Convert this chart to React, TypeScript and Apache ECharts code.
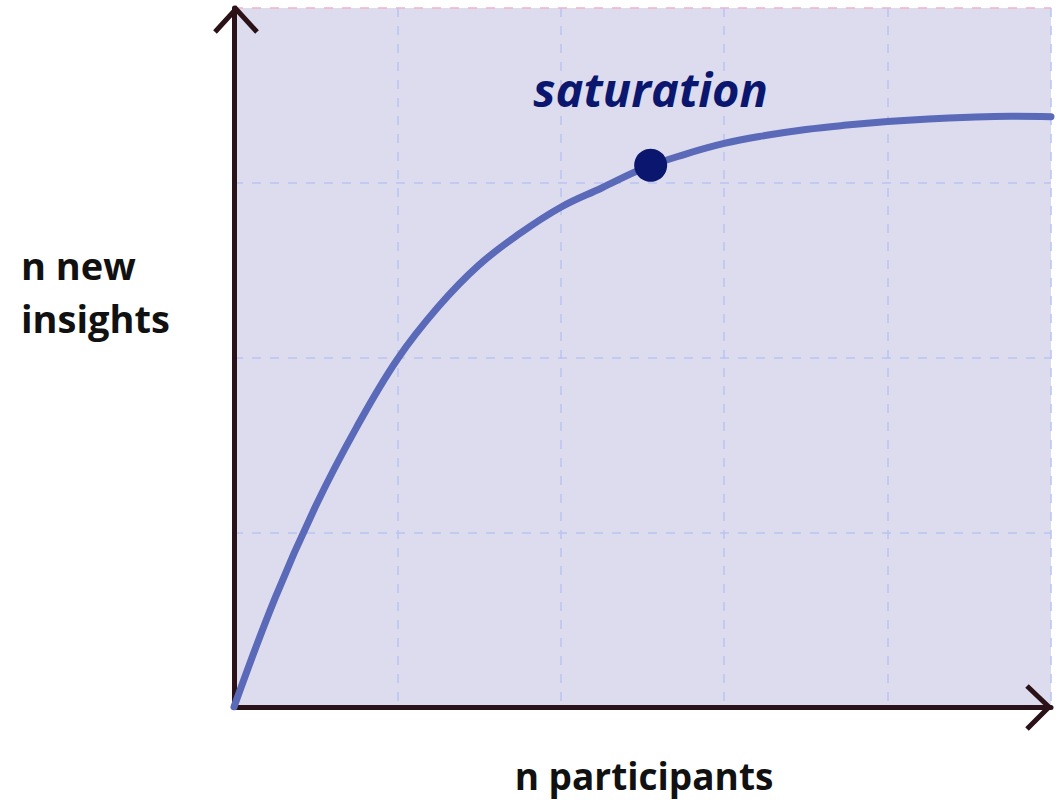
import React, { useEffect, useRef } from "react";
import * as echarts from "echarts";

const curveX = [0, 0.25, 0.5, 0.75, 1.0, 1.25, 1.5, 1.75, 2.0, 2.25, 2.5, 2.75, 3.0, 3.25, 3.5, 3.75, 4.0, 4.25, 4.5, 4.75, 5.0];
const curveY = [0, 0.62, 1.15, 1.6, 1.99, 2.29, 2.53, 2.71, 2.86, 2.97, 3.08, 3.16, 3.225, 3.27, 3.305, 3.33, 3.35, 3.365, 3.375, 3.38, 3.378];
const saturationPoint = [2.55, 3.1];
const pointLabel = "saturation";
const xTitle = "n participants";
const yTitleLines = ["n new", "insights"];
const xRange = [0, 5];
const yRange = [0, 4];

export default function App() {
  const ref = useRef<HTMLDivElement>(null);
  useEffect(() => {
    if (!ref.current) return;
    const chart = echarts.init(ref.current, undefined, { renderer: "svg" });
    const axisColor = "#2a1218";
    const gridColor = "#b9c3f4";
    const dash = [9, 9];
    const titleStyle = {
      fontSize: 38,
      fontWeight: "bold",
      fontFamily: "Open Sans",
      fill: "#111",
    };
    chart.setOption({
      animation: false,
      grid: {
        left: 234,
        right: 12,
        top: 8,
        bottom: 93,
        show: true,
        backgroundColor: "#dcdcee",
        borderWidth: 0,
      },
      xAxis: {
        type: "value",
        min: xRange[0],
        max: xRange[1],
        interval: 1,
        axisLine: { show: true, lineStyle: { color: axisColor, width: 5 } },
        axisTick: { show: false },
        axisLabel: { show: false },
        splitLine: { show: true, lineStyle: { color: gridColor, width: 1.5, type: dash } },
      },
      yAxis: {
        type: "value",
        min: yRange[0],
        max: yRange[1],
        interval: 1,
        axisLine: { show: true, lineStyle: { color: axisColor, width: 5 } },
        axisTick: { show: false },
        axisLabel: { show: false },
        splitLine: {
          show: true,
          lineStyle: { color: [gridColor, gridColor, gridColor, gridColor, "#f2b3c8"], width: 1.5, type: dash },
        },
      },
      series: [
        {
          type: "line",
          data: curveX.map((x, i) => [x, curveY[i]]),
          smooth: 0.4,
          showSymbol: false,
          lineStyle: { color: "#5b69b9", width: 7, cap: "round" },
          z: 3,
        },
        {
          type: "scatter",
          data: [saturationPoint],
          symbolSize: 33,
          itemStyle: { color: "#0b176e", opacity: 1 },
          label: {
            show: true,
            formatter: pointLabel,
            position: "top",
            distance: 36,
            color: "#0b176e",
            fontStyle: "italic",
            fontWeight: "bold",
            fontSize: 47,
            fontFamily: "Open Sans",
          },
          z: 4,
        },
      ],
      graphic: [
        {
          type: "polyline",
          shape: { points: [[215, 32], [236, 9], [257, 32]] },
          style: { stroke: axisColor, lineWidth: 5, fill: null },
          z: 10,
        },
        {
          type: "polyline",
          shape: { points: [[1027, 686], [1049, 707], [1027, 729]] },
          style: { stroke: axisColor, lineWidth: 5, fill: null },
          z: 10,
        },
        {
          type: "text",
          left: 21,
          top: 246,
          style: { ...titleStyle, text: yTitleLines[0] },
        },
        {
          type: "text",
          left: 21,
          top: 299,
          style: { ...titleStyle, text: yTitleLines[1] },
        },
        {
          type: "text",
          x: 644,
          y: 775,
          style: {
            ...titleStyle,
            fontSize: 37,
            text: xTitle,
            align: "center",
            verticalAlign: "middle",
          },
        },
      ],
    });
    return () => chart.dispose();
  }, []);
  return (
    <div
      ref={ref}
      style={{ position: "fixed", left: 0, top: 0, width: 1063, height: 800, background: "#fff" }}
    />
  );
}
